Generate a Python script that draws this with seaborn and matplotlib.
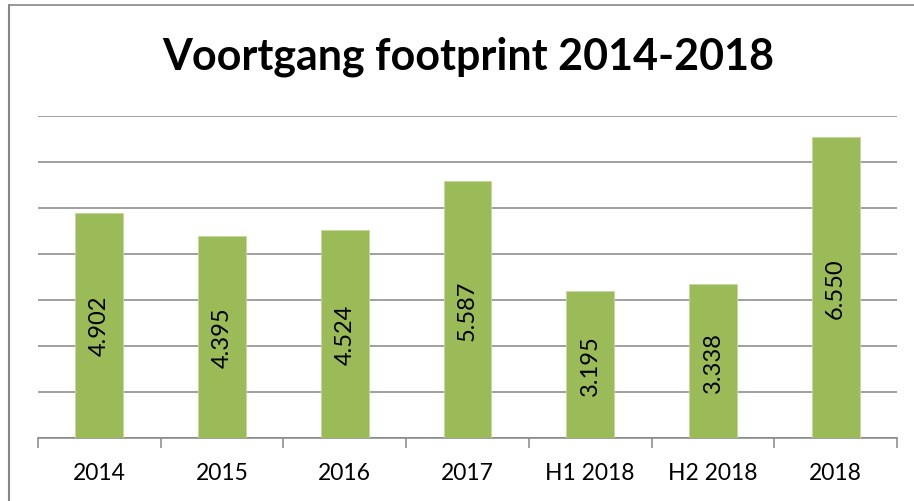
import matplotlib
matplotlib.use("Agg")
import matplotlib.pyplot as plt
from matplotlib.lines import Line2D
from matplotlib.ticker import FixedLocator
import seaborn as sns
import pandas as pd

categories = ["2014", "2015", "2016", "2017", "H1 2018", "H2 2018", "2018"]
values = [4902, 4395, 4524, 5587, 3195, 3338, 6550]
title = "Voortgang footprint 2014-2018"

sns.set_theme(style="white")
plt.rcParams['font.family'] = ['Lato', 'DejaVu Sans']

df = pd.DataFrame({"cat": categories, "val": values})

fig = plt.figure(figsize=(9.14, 5.02), dpi=100)
ax = fig.add_axes([38/914, 1-439/502, (897-38)/914, (439-117)/502])

sns.barplot(data=df, x="cat", y="val", color="#9BBB59", width=0.39,
            saturation=1, ax=ax, edgecolor="#C5D8A0", linewidth=0.6, zorder=3)

ax.set_ylim(0, 7000)
ax.set_xlim(-0.5, len(categories) - 0.5)
ax.set_yticks(range(0, 7001, 1000))
ax.set_yticklabels([])
ax.tick_params(axis="y", length=0)
ax.yaxis.grid(True, color="#868686", linewidth=1.1, zorder=0)
ax.set_axisbelow(True)
for s in ["left", "right", "top"]:
    ax.spines[s].set_visible(False)
ax.spines["bottom"].set_color("#868686")
ax.spines["bottom"].set_linewidth(1.1)
ax.set_xlabel("")
ax.set_ylabel("")
ax.tick_params(axis="x", which="major", length=0, pad=17, labelsize=16.5, labelcolor="black")
ax.xaxis.set_minor_locator(FixedLocator([i - 0.5 for i in range(len(categories) + 1)]))
ax.tick_params(axis="x", which="minor", length=7, width=1.1, color="#868686", direction="out", bottom=True)

for i, v in enumerate(values):
    lbl = f"{v:,}".replace(",", ".")
    ax.text(i, v / 2, lbl, rotation=90, ha="center", va="center",
            fontsize=17, color="black", zorder=4)

fig.text(468/914, 1-57/502, title, ha="center", va="center",
         fontsize=31, fontweight="bold", color="black")

# chart frame (top and left)
fig.add_artist(Line2D([8.5/914, 8.5/914], [0, 1-6/502], color="#878787", linewidth=1.5, transform=fig.transFigure))
fig.add_artist(Line2D([8.5/914, 1], [1-6/502, 1-6/502], color="#878787", linewidth=1.2, transform=fig.transFigure))

fig.savefig("out.png", dpi=100)
